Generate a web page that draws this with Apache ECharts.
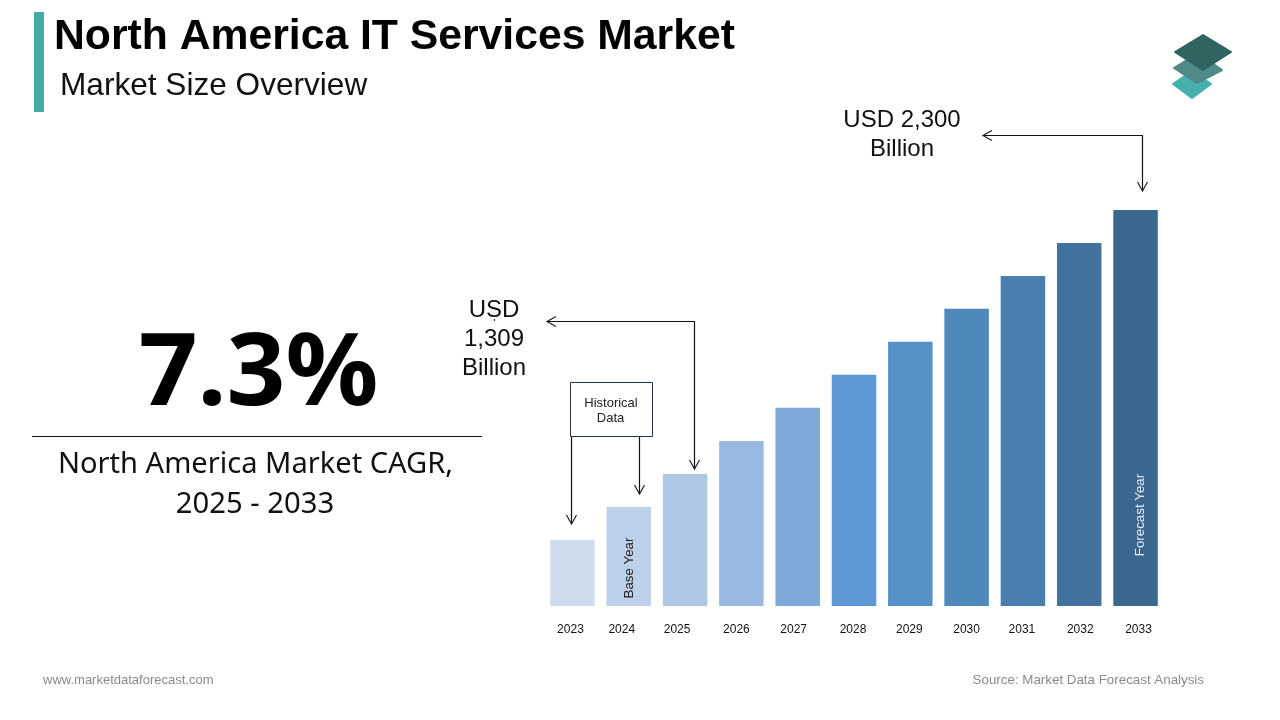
<!DOCTYPE html>
<html>
<head>
<meta charset="utf-8">
<title>North America IT Services Market</title>
<script src="https://cdn.jsdelivr.net/npm/echarts@6/dist/echarts.min.js"></script>
<style>
    html, body { margin: 0; padding: 0; background: #fff; }
    #chart { width: 1280px; height: 720px; }
</style>
</head>
<body>
<div id="chart"></div>
<script>
// 数据
const years = ['2023', '2024', '2025', '2026', '2027', '2028', '2029', '2030', '2031', '2032', '2033'];
const marketSize = [1061, 1185, 1309, 1433, 1557, 1681, 1805, 1929, 2052, 2176, 2300];
const barColors = ['#cfdcee', '#bdd0e9', '#aec7e4', '#98b8df', '#7ea9d9', '#5c99d4', '#5791c8', '#4f89bc', '#4a7eaf', '#43729f', '#3b668e'];
// year labels sit slightly off the bar centres in the source slide
const labelShift = [-2, -7, -8, -5, -4, -1, -1, 0, -1, 1, 3];

const SANS = '"Liberation Sans", Arial, sans-serif';
const HUMAN = '"Noto Sans", Lato, sans-serif';

function text(x, y, str, size, color, opts) {
    return {
        type: 'text',
        x: x,
        y: y,
        z: 10,
        rotation: (opts && opts.rotation) || 0,
        scaleX: (opts && opts.scaleX) || 1,
        silent: true,
        style: {
            text: str,
            fontFamily: (opts && opts.family) || SANS,
            fontSize: size,
            fontWeight: (opts && opts.weight) || 'normal',
            fill: color,
            align: (opts && opts.align) || 'left',
            verticalAlign: 'middle'
        }
    };
}

function line(points, color, width) {
    return {
        type: 'polyline',
        z: 10,
        silent: true,
        shape: { points: points },
        style: { stroke: color || '#111', lineWidth: width || 1.2, fill: null }
    };
}

function diamond(points, color) {
    return {
        type: 'polygon',
        z: 10,
        silent: true,
        shape: { points: points },
        style: { fill: color, lineJoin: 'round', stroke: color, lineWidth: 2 }
    };
}

function arrowDown(x, y) {
    return line([[x - 5, y - 9], [x, y], [x + 5, y - 9]], '#222');
}

function arrowLeft(x, y) {
    return line([[x + 9, y - 5], [x, y], [x + 9, y + 5]], '#222');
}

const richLabels = {};
years.forEach((year, i) => {
    const shift = labelShift[i] * 2;
    richLabels['y' + year] = {
        fontFamily: SANS,
        fontSize: 12,
        color: '#111',
        padding: shift < 0 ? [0, -shift, 0, 0] : [0, 0, 0, shift]
    };
});

const chart = echarts.init(document.getElementById('chart'));
chart.setOption({
    backgroundColor: '#fff',
    animation: false,
    grid: { left: 544.3, right: 116.3, top: 210, bottom: 114 },
    xAxis: {
        type: 'category',
        data: years,
        axisLine: { show: false },
        axisTick: { show: false },
        axisLabel: {
            interval: 0,
            margin: 18,
            formatter: value => '{y' + value + '|' + value + '}',
            rich: richLabels
        }
    },
    yAxis: {
        type: 'value',
        min: 813,
        max: 2300,
        show: false,
        splitLine: { show: false }
    },
    series: [{
        type: 'bar',
        barWidth: 44.5,
        data: marketSize.map((value, i) => ({ value: value, itemStyle: { color: barColors[i] } }))
    }],
    graphic: [
        // 标题
        { type: 'rect', z: 10, silent: true, shape: { x: 34, y: 12, width: 10, height: 100 }, style: { fill: '#45a9a5' } },
        text(54, 37, 'North America IT Services Market', 42.7, '#000', { weight: 'bold' }),
        text(60, 86, 'Market Size Overview', 31.6, '#111'),

        // logo
        diamond([[1173, 84], [1192, 71], [1211, 84], [1192, 98]], '#45b0ac'),
        diamond([[1174, 68], [1198, 53], [1222, 70], [1197, 83]], '#4f8a88'),
        diamond([[1175, 52], [1203, 35], [1231, 52], [1203, 70]], '#2f6461'),

        // CAGR
        text(258.5, 377, '7.3%', 100, '#000', { family: HUMAN, weight: 'bold', align: 'center', scaleX: 1.03 }),
        line([[32, 436.5], [482, 436.5]], '#111', 1),
        text(255.5, 465, 'North America Market CAGR,', 28.5, '#111', { family: HUMAN, align: 'center', scaleX: 1.02 }),
        text(255, 505, '2025 - 2033', 28.5, '#111', { family: HUMAN, align: 'center', scaleX: 1.025 }),

        // 2033 标注
        text(902, 120, 'USD 2,300', 24, '#111', { align: 'center' }),
        text(902, 149, 'Billion', 24, '#111', { align: 'center' }),
        line([[983, 135.5], [1142.5, 135.5], [1142.5, 191]], '#111'),
        arrowLeft(983, 135.5),
        arrowDown(1142.5, 191),

        // 2025 标注
        text(494, 310, 'USD', 24, '#111', { align: 'center' }),
        text(494, 339, '1,309', 24, '#111', { align: 'center' }),
        text(494, 368, 'Billion', 24, '#111', { align: 'center' }),
        line([[494.5, 319], [494.5, 321]], '#333'),
        line([[547, 321.5], [694.5, 321.5], [694.5, 469]], '#111'),
        arrowLeft(547, 321.5),
        arrowDown(694.5, 469),

        // Historical Data
        {
            type: 'rect',
            z: 10,
            silent: true,
            shape: { x: 570.5, y: 382.5, width: 82, height: 54 },
            style: { fill: '#fff', stroke: '#1f3550', lineWidth: 1 }
        },
        text(611, 403, 'Historical', 13, '#222', { align: 'center' }),
        text(610.5, 418, 'Data', 13, '#222', { align: 'center' }),
        line([[571.5, 437], [571.5, 524]], '#111'),
        arrowDown(571.5, 524),
        line([[639.5, 437], [639.5, 494]], '#111'),
        arrowDown(639.5, 494),

        // 柱内文字
        text(629.5, 568, 'Base Year', 13.3, '#222', { rotation: Math.PI / 2, align: 'center' }),
        text(1140, 515, 'Forecast Year', 13.3, '#e8eef5', { rotation: Math.PI / 2, align: 'center' }),

        // 页脚
        text(43, 680, 'www.marketdataforecast.com', 13, '#8a8a8a'),
        text(1204, 680, 'Source: Market Data Forecast Analysis', 13.35, '#8a8a8a', { align: 'right' })
    ]
});
window.addEventListener('resize', () => chart.resize());
</script>
</body>
</html>
